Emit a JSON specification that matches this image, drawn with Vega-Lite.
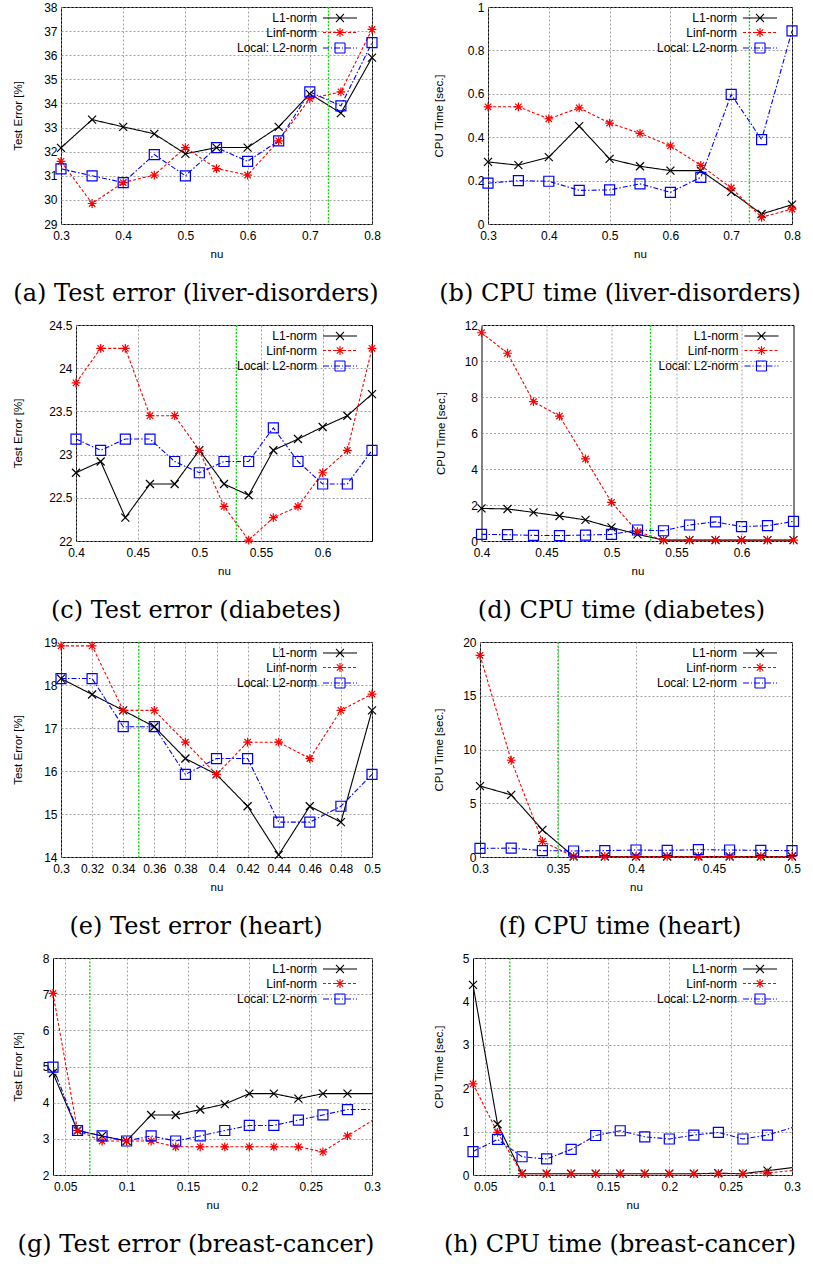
{
"$schema": "https://vega.github.io/schema/vega-lite/v6.json",
"background": "white",
"padding": {"left": 5, "top": 0, "right": 0, "bottom": 0},
"spacing": 12,
"config": {
 "font": "Liberation Sans",
 "view": {"stroke": "black", "strokeWidth": 1},
 "axis": {"grid": true, "gridColor": "#8c8c8c", "gridDash": [2, 2], "gridWidth": 0.8, "domain": false, "ticks": false, "tickSize": 0, "labelFontSize": 12, "labelColor": "black", "labelFont": "Liberation Sans", "titleFont": "Liberation Sans", "titleFontSize": 11.5, "titleFontWeight": "normal", "titleColor": "black", "labelOverlap": false, "labelFlush": false},
 "axisX": {"labelPadding": 6, "titlePadding": 7},
 "axisY": {"labelPadding": 4, "titlePadding": 2},
 "title": {"font": "DejaVu Serif", "fontSize": 24, "fontWeight": "normal", "color": "black", "orient": "bottom", "anchor": "middle", "frame": "group", "offset": 22},
 "legend": {"orient": "top-right", "offset": 5, "padding": 0, "labelAlign": "right", "labelOffset": -29, "labelFontSize": 12, "labelFont": "Liberation Sans", "labelColor": "black", "symbolSize": 64, "rowPadding": 0.5, "labelLimit": 200}
},
"datasets": {
 "g": [{"p":"a","x":0.73},{"p":"b","x":0.73},{"p":"c","x":0.53},{"p":"d","x":0.53},{"p":"e","x":0.35},{"p":"f","x":0.35},{"p":"g","x":0.07},{"p":"h","x":0.07}],
 "d": [
{"p":"a","m":"L1-norm","x":0.3,"y":32.16},{"p":"a","m":"L1-norm","x":0.35,"y":33.33},{"p":"a","m":"L1-norm","x":0.4,"y":33.03},{"p":"a","m":"L1-norm","x":0.45,"y":32.74},{"p":"a","m":"L1-norm","x":0.5,"y":31.91},{"p":"a","m":"L1-norm","x":0.55,"y":32.17},{"p":"a","m":"L1-norm","x":0.6,"y":32.17},{"p":"a","m":"L1-norm","x":0.65,"y":33.03},{"p":"a","m":"L1-norm","x":0.7,"y":34.4},{"p":"a","m":"L1-norm","x":0.75,"y":33.6},{"p":"a","m":"L1-norm","x":0.8,"y":35.9},
{"p":"a","m":"Linf-norm","x":0.3,"y":31.6},{"p":"a","m":"Linf-norm","x":0.35,"y":29.85},{"p":"a","m":"Linf-norm","x":0.4,"y":30.72},{"p":"a","m":"Linf-norm","x":0.45,"y":31.03},{"p":"a","m":"Linf-norm","x":0.5,"y":32.17},{"p":"a","m":"Linf-norm","x":0.55,"y":31.3},{"p":"a","m":"Linf-norm","x":0.6,"y":31.03},{"p":"a","m":"Linf-norm","x":0.65,"y":32.45},{"p":"a","m":"Linf-norm","x":0.7,"y":34.2},{"p":"a","m":"Linf-norm","x":0.75,"y":34.48},{"p":"a","m":"Linf-norm","x":0.8,"y":37.07},
{"p":"a","m":"Local: L2-norm","x":0.3,"y":31.29},{"p":"a","m":"Local: L2-norm","x":0.35,"y":31.0},{"p":"a","m":"Local: L2-norm","x":0.4,"y":30.72},{"p":"a","m":"Local: L2-norm","x":0.45,"y":31.88},{"p":"a","m":"Local: L2-norm","x":0.5,"y":31.0},{"p":"a","m":"Local: L2-norm","x":0.55,"y":32.17},{"p":"a","m":"Local: L2-norm","x":0.6,"y":31.6},{"p":"a","m":"Local: L2-norm","x":0.65,"y":32.45},{"p":"a","m":"Local: L2-norm","x":0.7,"y":34.48},{"p":"a","m":"Local: L2-norm","x":0.75,"y":33.9},{"p":"a","m":"Local: L2-norm","x":0.8,"y":36.52},
{"p":"b","m":"L1-norm","x":0.3,"y":0.286},{"p":"b","m":"L1-norm","x":0.35,"y":0.271},{"p":"b","m":"L1-norm","x":0.4,"y":0.308},{"p":"b","m":"L1-norm","x":0.45,"y":0.451},{"p":"b","m":"L1-norm","x":0.5,"y":0.3},{"p":"b","m":"L1-norm","x":0.55,"y":0.266},{"p":"b","m":"L1-norm","x":0.6,"y":0.246},{"p":"b","m":"L1-norm","x":0.65,"y":0.246},{"p":"b","m":"L1-norm","x":0.7,"y":0.148},{"p":"b","m":"L1-norm","x":0.75,"y":0.046},{"p":"b","m":"L1-norm","x":0.8,"y":0.089},
{"p":"b","m":"Linf-norm","x":0.3,"y":0.54},{"p":"b","m":"Linf-norm","x":0.35,"y":0.54},{"p":"b","m":"Linf-norm","x":0.4,"y":0.485},{"p":"b","m":"Linf-norm","x":0.45,"y":0.535},{"p":"b","m":"Linf-norm","x":0.5,"y":0.465},{"p":"b","m":"Linf-norm","x":0.55,"y":0.418},{"p":"b","m":"Linf-norm","x":0.6,"y":0.36},{"p":"b","m":"Linf-norm","x":0.65,"y":0.27},{"p":"b","m":"Linf-norm","x":0.7,"y":0.166},{"p":"b","m":"Linf-norm","x":0.75,"y":0.031},{"p":"b","m":"Linf-norm","x":0.8,"y":0.069},
{"p":"b","m":"Local: L2-norm","x":0.3,"y":0.188},{"p":"b","m":"Local: L2-norm","x":0.35,"y":0.2},{"p":"b","m":"Local: L2-norm","x":0.4,"y":0.197},{"p":"b","m":"Local: L2-norm","x":0.45,"y":0.155},{"p":"b","m":"Local: L2-norm","x":0.5,"y":0.157},{"p":"b","m":"Local: L2-norm","x":0.55,"y":0.185},{"p":"b","m":"Local: L2-norm","x":0.6,"y":0.146},{"p":"b","m":"Local: L2-norm","x":0.65,"y":0.215},{"p":"b","m":"Local: L2-norm","x":0.7,"y":0.597},{"p":"b","m":"Local: L2-norm","x":0.75,"y":0.389},{"p":"b","m":"Local: L2-norm","x":0.8,"y":0.89},
{"p":"c","m":"L1-norm","x":0.4,"y":22.79},{"p":"c","m":"L1-norm","x":0.42,"y":22.92},{"p":"c","m":"L1-norm","x":0.44,"y":22.27},{"p":"c","m":"L1-norm","x":0.46,"y":22.66},{"p":"c","m":"L1-norm","x":0.48,"y":22.66},{"p":"c","m":"L1-norm","x":0.5,"y":23.05},{"p":"c","m":"L1-norm","x":0.52,"y":22.66},{"p":"c","m":"L1-norm","x":0.54,"y":22.53},{"p":"c","m":"L1-norm","x":0.56,"y":23.05},{"p":"c","m":"L1-norm","x":0.58,"y":23.18},{"p":"c","m":"L1-norm","x":0.6,"y":23.32},{"p":"c","m":"L1-norm","x":0.62,"y":23.45},{"p":"c","m":"L1-norm","x":0.64,"y":23.7},
{"p":"c","m":"Linf-norm","x":0.4,"y":23.83},{"p":"c","m":"Linf-norm","x":0.42,"y":24.23},{"p":"c","m":"Linf-norm","x":0.44,"y":24.23},{"p":"c","m":"Linf-norm","x":0.46,"y":23.45},{"p":"c","m":"Linf-norm","x":0.48,"y":23.45},{"p":"c","m":"Linf-norm","x":0.5,"y":23.05},{"p":"c","m":"Linf-norm","x":0.52,"y":22.4},{"p":"c","m":"Linf-norm","x":0.54,"y":22.01},{"p":"c","m":"Linf-norm","x":0.56,"y":22.27},{"p":"c","m":"Linf-norm","x":0.58,"y":22.4},{"p":"c","m":"Linf-norm","x":0.6,"y":22.79},{"p":"c","m":"Linf-norm","x":0.62,"y":23.05},{"p":"c","m":"Linf-norm","x":0.64,"y":24.23},
{"p":"c","m":"Local: L2-norm","x":0.4,"y":23.18},{"p":"c","m":"Local: L2-norm","x":0.42,"y":23.05},{"p":"c","m":"Local: L2-norm","x":0.44,"y":23.18},{"p":"c","m":"Local: L2-norm","x":0.46,"y":23.18},{"p":"c","m":"Local: L2-norm","x":0.48,"y":22.92},{"p":"c","m":"Local: L2-norm","x":0.5,"y":22.79},{"p":"c","m":"Local: L2-norm","x":0.52,"y":22.92},{"p":"c","m":"Local: L2-norm","x":0.54,"y":22.92},{"p":"c","m":"Local: L2-norm","x":0.56,"y":23.31},{"p":"c","m":"Local: L2-norm","x":0.58,"y":22.92},{"p":"c","m":"Local: L2-norm","x":0.6,"y":22.66},{"p":"c","m":"Local: L2-norm","x":0.62,"y":22.66},{"p":"c","m":"Local: L2-norm","x":0.64,"y":23.05},
{"p":"d","m":"L1-norm","x":0.4,"y":1.81},{"p":"d","m":"L1-norm","x":0.42,"y":1.78},{"p":"d","m":"L1-norm","x":0.44,"y":1.59},{"p":"d","m":"L1-norm","x":0.46,"y":1.39},{"p":"d","m":"L1-norm","x":0.48,"y":1.17},{"p":"d","m":"L1-norm","x":0.5,"y":0.76},{"p":"d","m":"L1-norm","x":0.52,"y":0.37},{"p":"d","m":"L1-norm","x":0.54,"y":0.05},{"p":"d","m":"L1-norm","x":0.56,"y":0.05},{"p":"d","m":"L1-norm","x":0.58,"y":0.05},{"p":"d","m":"L1-norm","x":0.6,"y":0.05},{"p":"d","m":"L1-norm","x":0.62,"y":0.05},{"p":"d","m":"L1-norm","x":0.64,"y":0.05},
{"p":"d","m":"Linf-norm","x":0.4,"y":11.57},{"p":"d","m":"Linf-norm","x":0.42,"y":10.43},{"p":"d","m":"Linf-norm","x":0.44,"y":7.74},{"p":"d","m":"Linf-norm","x":0.46,"y":6.94},{"p":"d","m":"Linf-norm","x":0.48,"y":4.56},{"p":"d","m":"Linf-norm","x":0.5,"y":2.15},{"p":"d","m":"Linf-norm","x":0.52,"y":0.52},{"p":"d","m":"Linf-norm","x":0.54,"y":0.05},{"p":"d","m":"Linf-norm","x":0.56,"y":0.05},{"p":"d","m":"Linf-norm","x":0.58,"y":0.05},{"p":"d","m":"Linf-norm","x":0.6,"y":0.05},{"p":"d","m":"Linf-norm","x":0.62,"y":0.05},{"p":"d","m":"Linf-norm","x":0.64,"y":0.05},
{"p":"d","m":"Local: L2-norm","x":0.4,"y":0.37},{"p":"d","m":"Local: L2-norm","x":0.42,"y":0.35},{"p":"d","m":"Local: L2-norm","x":0.44,"y":0.31},{"p":"d","m":"Local: L2-norm","x":0.46,"y":0.3},{"p":"d","m":"Local: L2-norm","x":0.48,"y":0.33},{"p":"d","m":"Local: L2-norm","x":0.5,"y":0.37},{"p":"d","m":"Local: L2-norm","x":0.52,"y":0.61},{"p":"d","m":"Local: L2-norm","x":0.54,"y":0.57},{"p":"d","m":"Local: L2-norm","x":0.56,"y":0.89},{"p":"d","m":"Local: L2-norm","x":0.58,"y":1.06},{"p":"d","m":"Local: L2-norm","x":0.6,"y":0.8},{"p":"d","m":"Local: L2-norm","x":0.62,"y":0.85},{"p":"d","m":"Local: L2-norm","x":0.64,"y":1.09},
{"p":"e","m":"L1-norm","x":0.3,"y":18.15},{"p":"e","m":"L1-norm","x":0.32,"y":17.78},{"p":"e","m":"L1-norm","x":0.34,"y":17.41},{"p":"e","m":"L1-norm","x":0.36,"y":17.03},{"p":"e","m":"L1-norm","x":0.38,"y":16.29},{"p":"e","m":"L1-norm","x":0.4,"y":15.92},{"p":"e","m":"L1-norm","x":0.42,"y":15.18},{"p":"e","m":"L1-norm","x":0.44,"y":14.05},{"p":"e","m":"L1-norm","x":0.46,"y":15.18},{"p":"e","m":"L1-norm","x":0.48,"y":14.81},{"p":"e","m":"L1-norm","x":0.5,"y":17.41},
{"p":"e","m":"Linf-norm","x":0.3,"y":18.91},{"p":"e","m":"Linf-norm","x":0.32,"y":18.91},{"p":"e","m":"Linf-norm","x":0.34,"y":17.41},{"p":"e","m":"Linf-norm","x":0.36,"y":17.41},{"p":"e","m":"Linf-norm","x":0.38,"y":16.67},{"p":"e","m":"Linf-norm","x":0.4,"y":15.92},{"p":"e","m":"Linf-norm","x":0.42,"y":16.67},{"p":"e","m":"Linf-norm","x":0.44,"y":16.67},{"p":"e","m":"Linf-norm","x":0.46,"y":16.29},{"p":"e","m":"Linf-norm","x":0.48,"y":17.41},{"p":"e","m":"Linf-norm","x":0.5,"y":17.79},
{"p":"e","m":"Local: L2-norm","x":0.3,"y":18.15},{"p":"e","m":"Local: L2-norm","x":0.32,"y":18.15},{"p":"e","m":"Local: L2-norm","x":0.34,"y":17.03},{"p":"e","m":"Local: L2-norm","x":0.36,"y":17.03},{"p":"e","m":"Local: L2-norm","x":0.38,"y":15.92},{"p":"e","m":"Local: L2-norm","x":0.4,"y":16.29},{"p":"e","m":"Local: L2-norm","x":0.42,"y":16.29},{"p":"e","m":"Local: L2-norm","x":0.44,"y":14.81},{"p":"e","m":"Local: L2-norm","x":0.46,"y":14.81},{"p":"e","m":"Local: L2-norm","x":0.48,"y":15.18},{"p":"e","m":"Local: L2-norm","x":0.5,"y":15.92},
{"p":"f","m":"L1-norm","x":0.3,"y":6.6},{"p":"f","m":"L1-norm","x":0.32,"y":5.78},{"p":"f","m":"L1-norm","x":0.34,"y":2.53},{"p":"f","m":"L1-norm","x":0.36,"y":0.05},{"p":"f","m":"L1-norm","x":0.38,"y":0.05},{"p":"f","m":"L1-norm","x":0.4,"y":0.05},{"p":"f","m":"L1-norm","x":0.42,"y":0.05},{"p":"f","m":"L1-norm","x":0.44,"y":0.05},{"p":"f","m":"L1-norm","x":0.46,"y":0.05},{"p":"f","m":"L1-norm","x":0.48,"y":0.05},{"p":"f","m":"L1-norm","x":0.5,"y":0.05},
{"p":"f","m":"Linf-norm","x":0.3,"y":18.76},{"p":"f","m":"Linf-norm","x":0.32,"y":9.0},{"p":"f","m":"Linf-norm","x":0.34,"y":1.45},{"p":"f","m":"Linf-norm","x":0.36,"y":0.05},{"p":"f","m":"Linf-norm","x":0.38,"y":0.05},{"p":"f","m":"Linf-norm","x":0.4,"y":0.05},{"p":"f","m":"Linf-norm","x":0.42,"y":0.05},{"p":"f","m":"Linf-norm","x":0.44,"y":0.05},{"p":"f","m":"Linf-norm","x":0.46,"y":0.05},{"p":"f","m":"Linf-norm","x":0.48,"y":0.05},{"p":"f","m":"Linf-norm","x":0.5,"y":0.05},
{"p":"f","m":"Local: L2-norm","x":0.3,"y":0.8},{"p":"f","m":"Local: L2-norm","x":0.32,"y":0.83},{"p":"f","m":"Local: L2-norm","x":0.34,"y":0.59},{"p":"f","m":"Local: L2-norm","x":0.36,"y":0.56},{"p":"f","m":"Local: L2-norm","x":0.38,"y":0.59},{"p":"f","m":"Local: L2-norm","x":0.4,"y":0.65},{"p":"f","m":"Local: L2-norm","x":0.42,"y":0.62},{"p":"f","m":"Local: L2-norm","x":0.44,"y":0.68},{"p":"f","m":"Local: L2-norm","x":0.46,"y":0.65},{"p":"f","m":"Local: L2-norm","x":0.48,"y":0.62},{"p":"f","m":"Local: L2-norm","x":0.5,"y":0.59},
{"p":"g","m":"L1-norm","x":0.04,"y":4.82},{"p":"g","m":"L1-norm","x":0.06,"y":3.23},{"p":"g","m":"L1-norm","x":0.08,"y":3.08},{"p":"g","m":"L1-norm","x":0.1,"y":2.94},{"p":"g","m":"L1-norm","x":0.12,"y":3.66},{"p":"g","m":"L1-norm","x":0.14,"y":3.66},{"p":"g","m":"L1-norm","x":0.16,"y":3.81},{"p":"g","m":"L1-norm","x":0.18,"y":3.96},{"p":"g","m":"L1-norm","x":0.2,"y":4.25},{"p":"g","m":"L1-norm","x":0.22,"y":4.25},{"p":"g","m":"L1-norm","x":0.24,"y":4.11},{"p":"g","m":"L1-norm","x":0.26,"y":4.25},{"p":"g","m":"L1-norm","x":0.28,"y":4.25},{"p":"g","m":"L1-norm","x":0.32,"y":4.25},
{"p":"g","m":"Linf-norm","x":0.04,"y":7.02},{"p":"g","m":"Linf-norm","x":0.06,"y":3.23},{"p":"g","m":"Linf-norm","x":0.08,"y":2.94},{"p":"g","m":"Linf-norm","x":0.1,"y":2.94},{"p":"g","m":"Linf-norm","x":0.12,"y":2.94},{"p":"g","m":"Linf-norm","x":0.14,"y":2.78},{"p":"g","m":"Linf-norm","x":0.16,"y":2.78},{"p":"g","m":"Linf-norm","x":0.18,"y":2.78},{"p":"g","m":"Linf-norm","x":0.2,"y":2.78},{"p":"g","m":"Linf-norm","x":0.22,"y":2.78},{"p":"g","m":"Linf-norm","x":0.24,"y":2.78},{"p":"g","m":"Linf-norm","x":0.26,"y":2.64},{"p":"g","m":"Linf-norm","x":0.28,"y":3.08},{"p":"g","m":"Linf-norm","x":0.32,"y":3.92},
{"p":"g","m":"Local: L2-norm","x":0.04,"y":4.98},{"p":"g","m":"Local: L2-norm","x":0.06,"y":3.23},{"p":"g","m":"Local: L2-norm","x":0.08,"y":3.08},{"p":"g","m":"Local: L2-norm","x":0.1,"y":2.94},{"p":"g","m":"Local: L2-norm","x":0.12,"y":3.08},{"p":"g","m":"Local: L2-norm","x":0.14,"y":2.94},{"p":"g","m":"Local: L2-norm","x":0.16,"y":3.08},{"p":"g","m":"Local: L2-norm","x":0.18,"y":3.23},{"p":"g","m":"Local: L2-norm","x":0.2,"y":3.37},{"p":"g","m":"Local: L2-norm","x":0.22,"y":3.37},{"p":"g","m":"Local: L2-norm","x":0.24,"y":3.52},{"p":"g","m":"Local: L2-norm","x":0.26,"y":3.66},{"p":"g","m":"Local: L2-norm","x":0.28,"y":3.81},{"p":"g","m":"Local: L2-norm","x":0.32,"y":3.81},
{"p":"h","m":"L1-norm","x":0.04,"y":4.38},{"p":"h","m":"L1-norm","x":0.06,"y":1.17},{"p":"h","m":"L1-norm","x":0.08,"y":0.03},{"p":"h","m":"L1-norm","x":0.1,"y":0.03},{"p":"h","m":"L1-norm","x":0.12,"y":0.03},{"p":"h","m":"L1-norm","x":0.14,"y":0.03},{"p":"h","m":"L1-norm","x":0.16,"y":0.03},{"p":"h","m":"L1-norm","x":0.18,"y":0.03},{"p":"h","m":"L1-norm","x":0.2,"y":0.03},{"p":"h","m":"L1-norm","x":0.22,"y":0.03},{"p":"h","m":"L1-norm","x":0.24,"y":0.04},{"p":"h","m":"L1-norm","x":0.26,"y":0.03},{"p":"h","m":"L1-norm","x":0.28,"y":0.1},{"p":"h","m":"L1-norm","x":0.32,"y":0.24},
{"p":"h","m":"Linf-norm","x":0.04,"y":2.1},{"p":"h","m":"Linf-norm","x":0.06,"y":0.98},{"p":"h","m":"Linf-norm","x":0.08,"y":0.03},{"p":"h","m":"Linf-norm","x":0.1,"y":0.03},{"p":"h","m":"Linf-norm","x":0.12,"y":0.03},{"p":"h","m":"Linf-norm","x":0.14,"y":0.03},{"p":"h","m":"Linf-norm","x":0.16,"y":0.03},{"p":"h","m":"Linf-norm","x":0.18,"y":0.03},{"p":"h","m":"Linf-norm","x":0.2,"y":0.03},{"p":"h","m":"Linf-norm","x":0.22,"y":0.03},{"p":"h","m":"Linf-norm","x":0.24,"y":0.03},{"p":"h","m":"Linf-norm","x":0.26,"y":0.03},{"p":"h","m":"Linf-norm","x":0.28,"y":0.05},{"p":"h","m":"Linf-norm","x":0.32,"y":0.15},
{"p":"h","m":"Local: L2-norm","x":0.04,"y":0.54},{"p":"h","m":"Local: L2-norm","x":0.06,"y":0.82},{"p":"h","m":"Local: L2-norm","x":0.08,"y":0.42},{"p":"h","m":"Local: L2-norm","x":0.1,"y":0.37},{"p":"h","m":"Local: L2-norm","x":0.12,"y":0.59},{"p":"h","m":"Local: L2-norm","x":0.14,"y":0.91},{"p":"h","m":"Local: L2-norm","x":0.16,"y":1.02},{"p":"h","m":"Local: L2-norm","x":0.18,"y":0.88},{"p":"h","m":"Local: L2-norm","x":0.2,"y":0.83},{"p":"h","m":"Local: L2-norm","x":0.22,"y":0.92},{"p":"h","m":"Local: L2-norm","x":0.24,"y":0.98},{"p":"h","m":"Local: L2-norm","x":0.26,"y":0.83},{"p":"h","m":"Local: L2-norm","x":0.28,"y":0.92},{"p":"h","m":"Local: L2-norm","x":0.32,"y":1.26}
 ]
},
"resolve": {"scale": {"x": "independent", "y": "independent", "color": "independent", "shape": "independent", "strokeDash": "independent"}, "axis": {"x": "independent", "y": "independent"}, "legend": {"color": "independent", "shape": "independent", "strokeDash": "independent"}},
"vconcat": [
 {"spacing": 52,
  "resolve": {"scale": {"x": "independent", "y": "independent", "color": "independent", "shape": "independent", "strokeDash": "independent"}, "axis": {"x": "independent", "y": "independent"}, "legend": {"color": "independent", "shape": "independent", "strokeDash": "independent"}},
  "hconcat": [
  {"spacing": 0,
   "resolve": {"scale": {"x": "independent", "y": "independent", "color": "independent", "shape": "independent", "strokeDash": "independent"}, "axis": {"x": "independent", "y": "independent"}, "legend": {"color": "independent", "shape": "independent", "strokeDash": "independent"}},
   "hconcat": [
   {"width": 1, "height": 1, "data": {"values": [{}]}, "mark": {"type": "point", "opacity": 0}, "encoding": {}, "view": {"stroke": null}},
   {"width": 311, "height": 217, "title": {"text": "(a) Test error (liver-disorders)", "dx": -20.5},
   "layer": [
    {"data": {"name": "d"}, "transform": [{"filter": "datum.p == 'a'"}], "mark": {"type": "line", "strokeWidth": 1.1},
     "encoding": {
      "x": {"field": "x", "type": "quantitative", "scale": {"domain": [0.3, 0.8], "nice": false, "zero": false}, "axis": {"title": "nu", "values": [0.3, 0.4, 0.5, 0.6, 0.7, 0.8], "tickCount": 50, "format": "~g"}},
      "y": {"field": "y", "type": "quantitative", "scale": {"domain": [29, 38], "nice": false, "zero": false}, "axis": {"title": "Test Error [%]", "values": [29, 30, 31, 32, 33, 34, 35, 36, 37, 38], "tickCount": 50, "format": "~g", "minExtent": 35.5, "maxExtent": 35.5}},
      "color": {"field": "m", "type": "nominal", "scale": {"domain": ["L1-norm", "Linf-norm", "Local: L2-norm"], "range": ["#000000", "#ff0000", "#0000ff"]},
       "legend": {"title": null, "encode": {"symbols": {"update": {"shape": {"signal": "datum.value == 'L1-norm' ? 'M-4.25,0H4.25M-1,-1L1,1M-1,1L1,-1M6,0' : datum.value == 'Linf-norm' ? 'M-4.25,0H-3.5M-3,0H-2.25M-1.75,0H-1M-0.5,0H0.25M0.75,0H1.5M2,0H2.75M3.25,0H4M-1.1,0H1.1M0,-1.1V1.1M-0.8,-0.8L0.8,0.8M-0.8,0.8L0.8,-0.8M6,0' : 'M-4.25,0H-2.75M-2.25,0H-2M-1.5,0H0M0.5,0H0.75M1.25,0H2.75M3.25,0H3.5M4,0H4.25M-1.25,-1.25H1.25V1.25H-1.25ZM6,0'"}, "fill": {"value": "transparent"}, "strokeWidth": {"value": 1.1}, "strokeDash": {"value": [1, 0]}, "size": {"value": 64}, "opacity": {"value": 1}}}}}},
      "strokeDash": {"field": "m", "type": "nominal", "scale": {"range": [[1, 0], [3, 2], [5, 2, 1.5, 2]]}, "legend": null}
     }},
    {"data": {"name": "g"}, "transform": [{"filter": "datum.p == 'a'"}], "mark": {"type": "rule", "color": "#00dd00", "strokeWidth": 1.3, "strokeDash": [2, 1.5]},
     "encoding": {"x": {"field": "x", "type": "quantitative"}}},
    {"data": {"name": "d"}, "transform": [{"filter": "datum.p == 'a'"}], "mark": {"type": "point", "filled": false, "opacity": 1, "size": 64, "strokeWidth": 1.2},
     "encoding": {
      "x": {"field": "x", "type": "quantitative"},
      "y": {"field": "y", "type": "quantitative"},
      "color": {"field": "m", "type": "nominal", "legend": null},
      "shape": {"field": "m", "type": "nominal", "scale": {"range": ["M-1,-1L1,1M-1,1L1,-1", "M-1.1,0L1.1,0M0,-1.1L0,1.1M-0.8,-0.8L0.8,0.8M-0.8,0.8L0.8,-0.8", "M-1.25,-1.25H1.25V1.25H-1.25Z"]}, "legend": null}
     }}
   ]}]},
  {"width": 304, "height": 217, "title": {"text": "(b) CPU time (liver-disorders)", "dx": -20},
   "layer": [
    {"data": {"name": "d"}, "transform": [{"filter": "datum.p == 'b'"}], "mark": {"type": "line", "strokeWidth": 1.1},
     "encoding": {
      "x": {"field": "x", "type": "quantitative", "scale": {"domain": [0.3, 0.8], "nice": false, "zero": false}, "axis": {"title": "nu", "values": [0.3, 0.4, 0.5, 0.6, 0.7, 0.8], "tickCount": 50, "format": "~g"}},
      "y": {"field": "y", "type": "quantitative", "scale": {"domain": [0, 1], "nice": false, "zero": false}, "axis": {"title": "CPU Time [sec.]", "values": [0, 0.2, 0.4, 0.6, 0.8, 1], "tickCount": 50, "format": "~g", "minExtent": 41.5, "maxExtent": 41.5}},
      "color": {"field": "m", "type": "nominal", "scale": {"domain": ["L1-norm", "Linf-norm", "Local: L2-norm"], "range": ["#000000", "#ff0000", "#0000ff"]},
       "legend": {"title": null, "encode": {"symbols": {"update": {"shape": {"signal": "datum.value == 'L1-norm' ? 'M-4.25,0H4.25M-1,-1L1,1M-1,1L1,-1M6,0' : datum.value == 'Linf-norm' ? 'M-4.25,0H-3.5M-3,0H-2.25M-1.75,0H-1M-0.5,0H0.25M0.75,0H1.5M2,0H2.75M3.25,0H4M-1.1,0H1.1M0,-1.1V1.1M-0.8,-0.8L0.8,0.8M-0.8,0.8L0.8,-0.8M6,0' : 'M-4.25,0H-2.75M-2.25,0H-2M-1.5,0H0M0.5,0H0.75M1.25,0H2.75M3.25,0H3.5M4,0H4.25M-1.25,-1.25H1.25V1.25H-1.25ZM6,0'"}, "fill": {"value": "transparent"}, "strokeWidth": {"value": 1.1}, "strokeDash": {"value": [1, 0]}, "size": {"value": 64}, "opacity": {"value": 1}}}}}},
      "strokeDash": {"field": "m", "type": "nominal", "scale": {"range": [[1, 0], [3, 2], [5, 2, 1.5, 2]]}, "legend": null}
     }},
    {"data": {"name": "g"}, "transform": [{"filter": "datum.p == 'b'"}], "mark": {"type": "rule", "color": "#00dd00", "strokeWidth": 1.3, "strokeDash": [2, 1.5]},
     "encoding": {"x": {"field": "x", "type": "quantitative"}}},
    {"data": {"name": "d"}, "transform": [{"filter": "datum.p == 'b'"}], "mark": {"type": "point", "filled": false, "opacity": 1, "size": 64, "strokeWidth": 1.2},
     "encoding": {
      "x": {"field": "x", "type": "quantitative"},
      "y": {"field": "y", "type": "quantitative"},
      "color": {"field": "m", "type": "nominal", "legend": null},
      "shape": {"field": "m", "type": "nominal", "scale": {"range": ["M-1,-1L1,1M-1,1L1,-1", "M-1.1,0L1.1,0M0,-1.1L0,1.1M-0.8,-0.8L0.8,0.8M-0.8,0.8L0.8,-0.8", "M-1.25,-1.25H1.25V1.25H-1.25Z"]}, "legend": null}
     }}
   ]}
 ]},
 {"spacing": 54.5,
  "resolve": {"scale": {"x": "independent", "y": "independent", "color": "independent", "shape": "independent", "strokeDash": "independent"}, "axis": {"x": "independent", "y": "independent"}, "legend": {"color": "independent", "shape": "independent", "strokeDash": "independent"}},
  "hconcat": [
  {"spacing": 0,
   "resolve": {"scale": {"x": "independent", "y": "independent", "color": "independent", "shape": "independent", "strokeDash": "independent"}, "axis": {"x": "independent", "y": "independent"}, "legend": {"color": "independent", "shape": "independent", "strokeDash": "independent"}},
   "hconcat": [
   {"width": 1, "height": 1, "data": {"values": [{}]}, "mark": {"type": "point", "opacity": 0}, "encoding": {}, "view": {"stroke": null}},
   {"width": 296, "height": 216, "title": {"text": "(c) Test error (diabetes)", "dx": -28},
   "layer": [
    {"data": {"name": "d"}, "transform": [{"filter": "datum.p == 'c'"}], "mark": {"type": "line", "strokeWidth": 1.1},
     "encoding": {
      "x": {"field": "x", "type": "quantitative", "scale": {"domain": [0.4, 0.64], "nice": false, "zero": false}, "axis": {"title": "nu", "values": [0.4, 0.45, 0.5, 0.55, 0.6], "tickCount": 50, "format": "~g"}},
      "y": {"field": "y", "type": "quantitative", "scale": {"domain": [22, 24.5], "nice": false, "zero": false}, "axis": {"title": "Test Error [%]", "values": [22, 22.5, 23, 23.5, 24, 24.5], "tickCount": 50, "format": "~g", "minExtent": 50.5, "maxExtent": 50.5}},
      "color": {"field": "m", "type": "nominal", "scale": {"domain": ["L1-norm", "Linf-norm", "Local: L2-norm"], "range": ["#000000", "#ff0000", "#0000ff"]},
       "legend": {"title": null, "encode": {"symbols": {"update": {"shape": {"signal": "datum.value == 'L1-norm' ? 'M-4.25,0H4.25M-1,-1L1,1M-1,1L1,-1M6,0' : datum.value == 'Linf-norm' ? 'M-4.25,0H-3.5M-3,0H-2.25M-1.75,0H-1M-0.5,0H0.25M0.75,0H1.5M2,0H2.75M3.25,0H4M-1.1,0H1.1M0,-1.1V1.1M-0.8,-0.8L0.8,0.8M-0.8,0.8L0.8,-0.8M6,0' : 'M-4.25,0H-2.75M-2.25,0H-2M-1.5,0H0M0.5,0H0.75M1.25,0H2.75M3.25,0H3.5M4,0H4.25M-1.25,-1.25H1.25V1.25H-1.25ZM6,0'"}, "fill": {"value": "transparent"}, "strokeWidth": {"value": 1.1}, "strokeDash": {"value": [1, 0]}, "size": {"value": 64}, "opacity": {"value": 1}}}}}},
      "strokeDash": {"field": "m", "type": "nominal", "scale": {"range": [[1, 0], [3, 2], [5, 2, 1.5, 2]]}, "legend": null}
     }},
    {"data": {"name": "g"}, "transform": [{"filter": "datum.p == 'c'"}], "mark": {"type": "rule", "color": "#00dd00", "strokeWidth": 1.3, "strokeDash": [2, 1.5]},
     "encoding": {"x": {"field": "x", "type": "quantitative"}}},
    {"data": {"name": "d"}, "transform": [{"filter": "datum.p == 'c'"}], "mark": {"type": "point", "filled": false, "opacity": 1, "size": 64, "strokeWidth": 1.2},
     "encoding": {
      "x": {"field": "x", "type": "quantitative"},
      "y": {"field": "y", "type": "quantitative"},
      "color": {"field": "m", "type": "nominal", "legend": null},
      "shape": {"field": "m", "type": "nominal", "scale": {"range": ["M-1,-1L1,1M-1,1L1,-1", "M-1.1,0L1.1,0M0,-1.1L0,1.1M-0.8,-0.8L0.8,0.8M-0.8,0.8L0.8,-0.8", "M-1.25,-1.25H1.25V1.25H-1.25Z"]}, "legend": null}
     }}
   ]}]},
  {"width": 312, "height": 216, "title": {"text": "(d) CPU time (diabetes)", "dx": -16},
   "layer": [
    {"data": {"name": "d"}, "transform": [{"filter": "datum.p == 'd'"}], "mark": {"type": "line", "strokeWidth": 1.1},
     "encoding": {
      "x": {"field": "x", "type": "quantitative", "scale": {"domain": [0.4, 0.64], "nice": false, "zero": false}, "axis": {"title": "nu", "values": [0.4, 0.45, 0.5, 0.55, 0.6], "tickCount": 50, "format": "~g"}},
      "y": {"field": "y", "type": "quantitative", "scale": {"domain": [0, 12], "nice": false, "zero": false}, "axis": {"title": "CPU Time [sec.]", "values": [0, 2, 4, 6, 8, 10, 12], "tickCount": 50, "format": "~g", "minExtent": 33.5, "maxExtent": 33.5}},
      "color": {"field": "m", "type": "nominal", "scale": {"domain": ["L1-norm", "Linf-norm", "Local: L2-norm"], "range": ["#000000", "#ff0000", "#0000ff"]},
       "legend": {"title": null, "encode": {"symbols": {"update": {"shape": {"signal": "datum.value == 'L1-norm' ? 'M-4.25,0H4.25M-1,-1L1,1M-1,1L1,-1M6,0' : datum.value == 'Linf-norm' ? 'M-4.25,0H-3.5M-3,0H-2.25M-1.75,0H-1M-0.5,0H0.25M0.75,0H1.5M2,0H2.75M3.25,0H4M-1.1,0H1.1M0,-1.1V1.1M-0.8,-0.8L0.8,0.8M-0.8,0.8L0.8,-0.8M6,0' : 'M-4.25,0H-2.75M-2.25,0H-2M-1.5,0H0M0.5,0H0.75M1.25,0H2.75M3.25,0H3.5M4,0H4.25M-1.25,-1.25H1.25V1.25H-1.25ZM6,0'"}, "fill": {"value": "transparent"}, "strokeWidth": {"value": 1.1}, "strokeDash": {"value": [1, 0]}, "size": {"value": 64}, "opacity": {"value": 1}}}}}},
      "strokeDash": {"field": "m", "type": "nominal", "scale": {"range": [[1, 0], [3, 2], [5, 2, 1.5, 2]]}, "legend": null}
     }},
    {"data": {"name": "g"}, "transform": [{"filter": "datum.p == 'd'"}], "mark": {"type": "rule", "color": "#00dd00", "strokeWidth": 1.3, "strokeDash": [2, 1.5]},
     "encoding": {"x": {"field": "x", "type": "quantitative"}}},
    {"data": {"name": "d"}, "transform": [{"filter": "datum.p == 'd'"}], "mark": {"type": "point", "filled": false, "opacity": 1, "size": 64, "strokeWidth": 1.2},
     "encoding": {
      "x": {"field": "x", "type": "quantitative"},
      "y": {"field": "y", "type": "quantitative"},
      "color": {"field": "m", "type": "nominal", "legend": null},
      "shape": {"field": "m", "type": "nominal", "scale": {"range": ["M-1,-1L1,1M-1,1L1,-1", "M-1.1,0L1.1,0M0,-1.1L0,1.1M-0.8,-0.8L0.8,0.8M-0.8,0.8L0.8,-0.8", "M-1.25,-1.25H1.25V1.25H-1.25Z"]}, "legend": null}
     }}
   ]}
 ]},
 {"spacing": 52,
  "resolve": {"scale": {"x": "independent", "y": "independent", "color": "independent", "shape": "independent", "strokeDash": "independent"}, "axis": {"x": "independent", "y": "independent"}, "legend": {"color": "independent", "shape": "independent", "strokeDash": "independent"}},
  "hconcat": [
  {"spacing": 0,
   "resolve": {"scale": {"x": "independent", "y": "independent", "color": "independent", "shape": "independent", "strokeDash": "independent"}, "axis": {"x": "independent", "y": "independent"}, "legend": {"color": "independent", "shape": "independent", "strokeDash": "independent"}},
   "hconcat": [
   {"width": 1, "height": 1, "data": {"values": [{}]}, "mark": {"type": "point", "opacity": 0}, "encoding": {}, "view": {"stroke": null}},
   {"width": 311, "height": 215, "title": {"text": "(e) Test error (heart)", "dx": -20.5},
   "layer": [
    {"data": {"name": "d"}, "transform": [{"filter": "datum.p == 'e'"}], "mark": {"type": "line", "strokeWidth": 1.1},
     "encoding": {
      "x": {"field": "x", "type": "quantitative", "scale": {"domain": [0.3, 0.5], "nice": false, "zero": false}, "axis": {"title": "nu", "values": [0.3, 0.32, 0.34, 0.36, 0.38, 0.4, 0.42, 0.44, 0.46, 0.48, 0.5], "tickCount": 50, "format": "~g"}},
      "y": {"field": "y", "type": "quantitative", "scale": {"domain": [14, 19], "nice": false, "zero": false}, "axis": {"title": "Test Error [%]", "values": [14, 15, 16, 17, 18, 19], "tickCount": 50, "format": "~g", "minExtent": 35.5, "maxExtent": 35.5}},
      "color": {"field": "m", "type": "nominal", "scale": {"domain": ["L1-norm", "Linf-norm", "Local: L2-norm"], "range": ["#000000", "#ff0000", "#0000ff"]},
       "legend": {"title": null, "encode": {"symbols": {"update": {"shape": {"signal": "datum.value == 'L1-norm' ? 'M-4.25,0H4.25M-1,-1L1,1M-1,1L1,-1M6,0' : datum.value == 'Linf-norm' ? 'M-4.25,0H-3.5M-3,0H-2.25M-1.75,0H-1M-0.5,0H0.25M0.75,0H1.5M2,0H2.75M3.25,0H4M-1.1,0H1.1M0,-1.1V1.1M-0.8,-0.8L0.8,0.8M-0.8,0.8L0.8,-0.8M6,0' : 'M-4.25,0H-2.75M-2.25,0H-2M-1.5,0H0M0.5,0H0.75M1.25,0H2.75M3.25,0H3.5M4,0H4.25M-1.25,-1.25H1.25V1.25H-1.25ZM6,0'"}, "fill": {"value": "transparent"}, "strokeWidth": {"value": 1.1}, "strokeDash": {"value": [1, 0]}, "size": {"value": 64}, "opacity": {"value": 1}}}}}},
      "strokeDash": {"field": "m", "type": "nominal", "scale": {"range": [[1, 0], [3, 2], [5, 2, 1.5, 2]]}, "legend": null}
     }},
    {"data": {"name": "g"}, "transform": [{"filter": "datum.p == 'e'"}], "mark": {"type": "rule", "color": "#00dd00", "strokeWidth": 1.3, "strokeDash": [2, 1.5]},
     "encoding": {"x": {"field": "x", "type": "quantitative"}}},
    {"data": {"name": "d"}, "transform": [{"filter": "datum.p == 'e'"}], "mark": {"type": "point", "filled": false, "opacity": 1, "size": 64, "strokeWidth": 1.2},
     "encoding": {
      "x": {"field": "x", "type": "quantitative"},
      "y": {"field": "y", "type": "quantitative"},
      "color": {"field": "m", "type": "nominal", "legend": null},
      "shape": {"field": "m", "type": "nominal", "scale": {"range": ["M-1,-1L1,1M-1,1L1,-1", "M-1.1,0L1.1,0M0,-1.1L0,1.1M-0.8,-0.8L0.8,0.8M-0.8,0.8L0.8,-0.8", "M-1.25,-1.25H1.25V1.25H-1.25Z"]}, "legend": null}
     }}
   ]}]},
  {"width": 312, "height": 215, "title": {"text": "(f) CPU time (heart)", "dx": -16},
   "layer": [
    {"data": {"name": "d"}, "transform": [{"filter": "datum.p == 'f'"}], "mark": {"type": "line", "strokeWidth": 1.1},
     "encoding": {
      "x": {"field": "x", "type": "quantitative", "scale": {"domain": [0.3, 0.5], "nice": false, "zero": false}, "axis": {"title": "nu", "values": [0.3, 0.35, 0.4, 0.45, 0.5], "tickCount": 50, "format": "~g"}},
      "y": {"field": "y", "type": "quantitative", "scale": {"domain": [0, 20], "nice": false, "zero": false}, "axis": {"title": "CPU Time [sec.]", "values": [0, 5, 10, 15, 20], "tickCount": 50, "format": "~g", "minExtent": 33.5, "maxExtent": 33.5}},
      "color": {"field": "m", "type": "nominal", "scale": {"domain": ["L1-norm", "Linf-norm", "Local: L2-norm"], "range": ["#000000", "#ff0000", "#0000ff"]},
       "legend": {"title": null, "encode": {"symbols": {"update": {"shape": {"signal": "datum.value == 'L1-norm' ? 'M-4.25,0H4.25M-1,-1L1,1M-1,1L1,-1M6,0' : datum.value == 'Linf-norm' ? 'M-4.25,0H-3.5M-3,0H-2.25M-1.75,0H-1M-0.5,0H0.25M0.75,0H1.5M2,0H2.75M3.25,0H4M-1.1,0H1.1M0,-1.1V1.1M-0.8,-0.8L0.8,0.8M-0.8,0.8L0.8,-0.8M6,0' : 'M-4.25,0H-2.75M-2.25,0H-2M-1.5,0H0M0.5,0H0.75M1.25,0H2.75M3.25,0H3.5M4,0H4.25M-1.25,-1.25H1.25V1.25H-1.25ZM6,0'"}, "fill": {"value": "transparent"}, "strokeWidth": {"value": 1.1}, "strokeDash": {"value": [1, 0]}, "size": {"value": 64}, "opacity": {"value": 1}}}}}},
      "strokeDash": {"field": "m", "type": "nominal", "scale": {"range": [[1, 0], [3, 2], [5, 2, 1.5, 2]]}, "legend": null}
     }},
    {"data": {"name": "g"}, "transform": [{"filter": "datum.p == 'f'"}], "mark": {"type": "rule", "color": "#00dd00", "strokeWidth": 1.3, "strokeDash": [2, 1.5]},
     "encoding": {"x": {"field": "x", "type": "quantitative"}}},
    {"data": {"name": "d"}, "transform": [{"filter": "datum.p == 'f'"}], "mark": {"type": "point", "filled": false, "opacity": 1, "size": 64, "strokeWidth": 1.2},
     "encoding": {
      "x": {"field": "x", "type": "quantitative"},
      "y": {"field": "y", "type": "quantitative"},
      "color": {"field": "m", "type": "nominal", "legend": null},
      "shape": {"field": "m", "type": "nominal", "scale": {"range": ["M-1,-1L1,1M-1,1L1,-1", "M-1.1,0L1.1,0M0,-1.1L0,1.1M-0.8,-0.8L0.8,0.8M-0.8,0.8L0.8,-0.8", "M-1.25,-1.25H1.25V1.25H-1.25Z"]}, "legend": null}
     }}
   ]}
 ]},
 {"spacing": 52,
  "resolve": {"scale": {"x": "independent", "y": "independent", "color": "independent", "shape": "independent", "strokeDash": "independent"}, "axis": {"x": "independent", "y": "independent"}, "legend": {"color": "independent", "shape": "independent", "strokeDash": "independent"}},
  "hconcat": [
  {"spacing": 0,
   "resolve": {"scale": {"x": "independent", "y": "independent", "color": "independent", "shape": "independent", "strokeDash": "independent"}, "axis": {"x": "independent", "y": "independent"}, "legend": {"color": "independent", "shape": "independent", "strokeDash": "independent"}},
   "hconcat": [
   {"width": 1, "height": 1, "data": {"values": [{}]}, "mark": {"type": "point", "opacity": 0}, "encoding": {}, "view": {"stroke": null}},
   {"width": 319, "height": 217, "title": {"text": "(g) Test error (breast-cancer)", "dx": -16.5},
   "layer": [
    {"data": {"name": "d"}, "transform": [{"filter": "datum.p == 'g'"}], "mark": {"type": "line", "strokeWidth": 1.1, "clip": true},
     "encoding": {
      "x": {"field": "x", "type": "quantitative", "scale": {"domain": [0.04, 0.3], "nice": false, "zero": false}, "axis": {"title": "nu", "values": [0.05, 0.1, 0.15, 0.2, 0.25, 0.3], "tickCount": 50, "format": "~g"}},
      "y": {"field": "y", "type": "quantitative", "scale": {"domain": [2, 8], "nice": false, "zero": false}, "axis": {"title": "Test Error [%]", "values": [2, 3, 4, 5, 6, 7, 8], "tickCount": 50, "format": "~g", "minExtent": 27.5, "maxExtent": 27.5}},
      "color": {"field": "m", "type": "nominal", "scale": {"domain": ["L1-norm", "Linf-norm", "Local: L2-norm"], "range": ["#000000", "#ff0000", "#0000ff"]},
       "legend": {"title": null, "encode": {"symbols": {"update": {"shape": {"signal": "datum.value == 'L1-norm' ? 'M-4.25,0H4.25M-1,-1L1,1M-1,1L1,-1M6,0' : datum.value == 'Linf-norm' ? 'M-4.25,0H-3.5M-3,0H-2.25M-1.75,0H-1M-0.5,0H0.25M0.75,0H1.5M2,0H2.75M3.25,0H4M-1.1,0H1.1M0,-1.1V1.1M-0.8,-0.8L0.8,0.8M-0.8,0.8L0.8,-0.8M6,0' : 'M-4.25,0H-2.75M-2.25,0H-2M-1.5,0H0M0.5,0H0.75M1.25,0H2.75M3.25,0H3.5M4,0H4.25M-1.25,-1.25H1.25V1.25H-1.25ZM6,0'"}, "fill": {"value": "transparent"}, "strokeWidth": {"value": 1.1}, "strokeDash": {"value": [1, 0]}, "size": {"value": 64}, "opacity": {"value": 1}}}}}},
      "strokeDash": {"field": "m", "type": "nominal", "scale": {"range": [[1, 0], [3, 2], [5, 2, 1.5, 2]]}, "legend": null}
     }},
    {"data": {"name": "g"}, "transform": [{"filter": "datum.p == 'g'"}], "mark": {"type": "rule", "color": "#00dd00", "strokeWidth": 1.3, "strokeDash": [2, 1.5]},
     "encoding": {"x": {"field": "x", "type": "quantitative"}}},
    {"data": {"name": "d"}, "transform": [{"filter": "datum.p == 'g' && datum.x <= 0.3"}], "mark": {"type": "point", "filled": false, "opacity": 1, "size": 64, "strokeWidth": 1.2},
     "encoding": {
      "x": {"field": "x", "type": "quantitative"},
      "y": {"field": "y", "type": "quantitative"},
      "color": {"field": "m", "type": "nominal", "legend": null},
      "shape": {"field": "m", "type": "nominal", "scale": {"range": ["M-1,-1L1,1M-1,1L1,-1", "M-1.1,0L1.1,0M0,-1.1L0,1.1M-0.8,-0.8L0.8,0.8M-0.8,0.8L0.8,-0.8", "M-1.25,-1.25H1.25V1.25H-1.25Z"]}, "legend": null}
     }}
   ]}]},
  {"width": 319, "height": 217, "title": {"text": "(h) CPU time (breast-cancer)", "dx": -12.5},
   "layer": [
    {"data": {"name": "d"}, "transform": [{"filter": "datum.p == 'h'"}], "mark": {"type": "line", "strokeWidth": 1.1, "clip": true},
     "encoding": {
      "x": {"field": "x", "type": "quantitative", "scale": {"domain": [0.04, 0.3], "nice": false, "zero": false}, "axis": {"title": "nu", "values": [0.05, 0.1, 0.15, 0.2, 0.25, 0.3], "tickCount": 50, "format": "~g"}},
      "y": {"field": "y", "type": "quantitative", "scale": {"domain": [0, 5], "nice": false, "zero": false}, "axis": {"title": "CPU Time [sec.]", "values": [0, 1, 2, 3, 4, 5], "tickCount": 50, "format": "~g", "minExtent": 26.5, "maxExtent": 26.5}},
      "color": {"field": "m", "type": "nominal", "scale": {"domain": ["L1-norm", "Linf-norm", "Local: L2-norm"], "range": ["#000000", "#ff0000", "#0000ff"]},
       "legend": {"title": null, "encode": {"symbols": {"update": {"shape": {"signal": "datum.value == 'L1-norm' ? 'M-4.25,0H4.25M-1,-1L1,1M-1,1L1,-1M6,0' : datum.value == 'Linf-norm' ? 'M-4.25,0H-3.5M-3,0H-2.25M-1.75,0H-1M-0.5,0H0.25M0.75,0H1.5M2,0H2.75M3.25,0H4M-1.1,0H1.1M0,-1.1V1.1M-0.8,-0.8L0.8,0.8M-0.8,0.8L0.8,-0.8M6,0' : 'M-4.25,0H-2.75M-2.25,0H-2M-1.5,0H0M0.5,0H0.75M1.25,0H2.75M3.25,0H3.5M4,0H4.25M-1.25,-1.25H1.25V1.25H-1.25ZM6,0'"}, "fill": {"value": "transparent"}, "strokeWidth": {"value": 1.1}, "strokeDash": {"value": [1, 0]}, "size": {"value": 64}, "opacity": {"value": 1}}}}}},
      "strokeDash": {"field": "m", "type": "nominal", "scale": {"range": [[1, 0], [3, 2], [5, 2, 1.5, 2]]}, "legend": null}
     }},
    {"data": {"name": "g"}, "transform": [{"filter": "datum.p == 'h'"}], "mark": {"type": "rule", "color": "#00dd00", "strokeWidth": 1.3, "strokeDash": [2, 1.5]},
     "encoding": {"x": {"field": "x", "type": "quantitative"}}},
    {"data": {"name": "d"}, "transform": [{"filter": "datum.p == 'h' && datum.x <= 0.3"}], "mark": {"type": "point", "filled": false, "opacity": 1, "size": 64, "strokeWidth": 1.2},
     "encoding": {
      "x": {"field": "x", "type": "quantitative"},
      "y": {"field": "y", "type": "quantitative"},
      "color": {"field": "m", "type": "nominal", "legend": null},
      "shape": {"field": "m", "type": "nominal", "scale": {"range": ["M-1,-1L1,1M-1,1L1,-1", "M-1.1,0L1.1,0M0,-1.1L0,1.1M-0.8,-0.8L0.8,0.8M-0.8,0.8L0.8,-0.8", "M-1.25,-1.25H1.25V1.25H-1.25Z"]}, "legend": null}
     }}
   ]}
 ]}
]
}
